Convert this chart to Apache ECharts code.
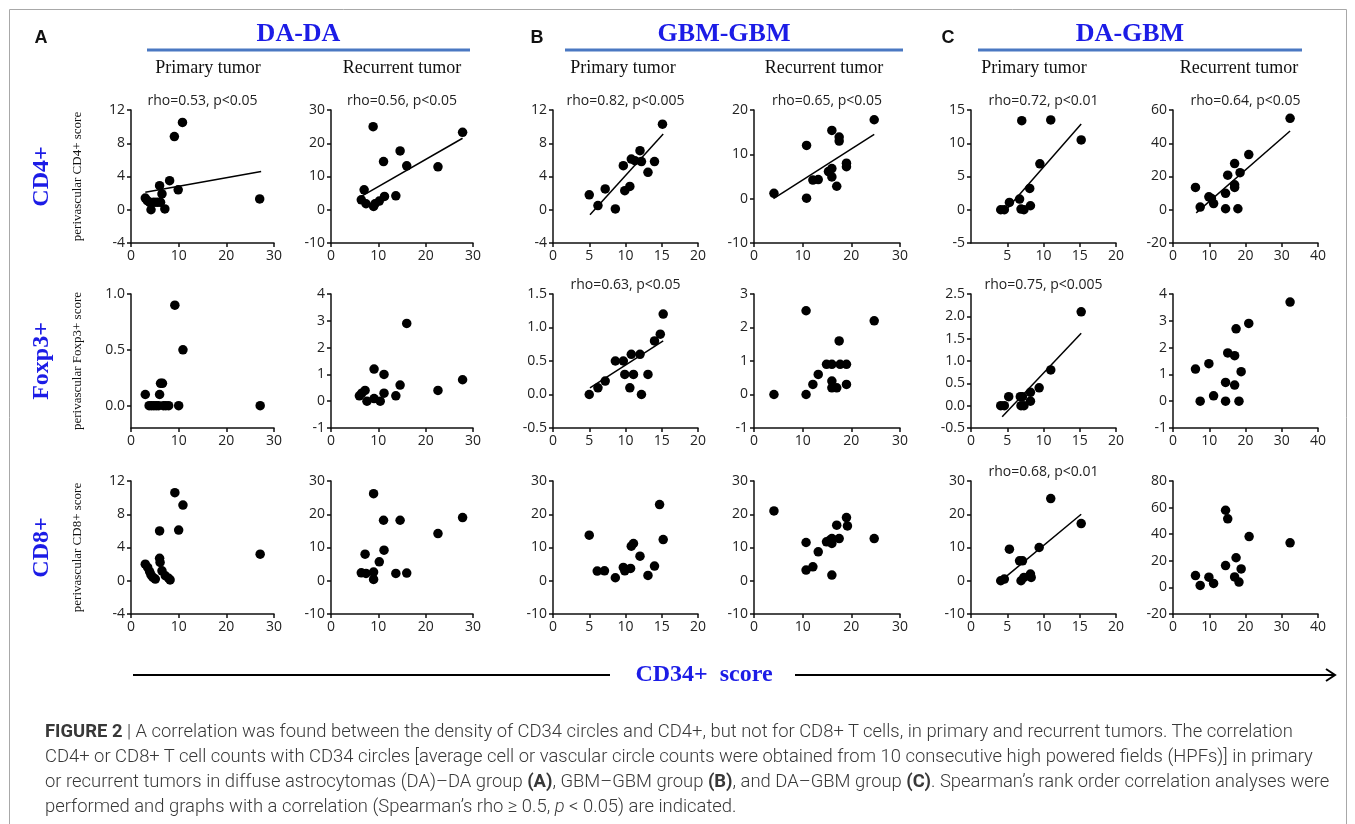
<!DOCTYPE html>
<html>
<head>
<meta charset="utf-8">
<script src="https://cdn.jsdelivr.net/npm/echarts@6/dist/echarts.min.js"></script>
<style>
body { margin: 0; background: #fff; }
#chart { position: absolute; left: 0; top: 0; width: 1355px; height: 824px; }
#caption { position: absolute; left: 45px; top: 719px; font-family: Roboto, 'Liberation Sans', sans-serif; font-weight: 300;
  font-size: 18.5px; line-height: 25px; color: #383838; white-space: nowrap; }
#caption div { transform-origin: 0 50%; width: max-content; }
#caption b { font-weight: 700; }
</style>
</head>
<body>
<div id="chart"></div>
<div id="caption">
<div id="cap1"><b>FIGURE 2</b> | A correlation was found between the density of CD34 circles and CD4+, but not for CD8+ T cells, in primary and recurrent tumors. The correlation</div>
<div>CD4+ or CD8+ T cell counts with CD34 circles [average cell or vascular circle counts were obtained from 10 consecutive high powered fields (HPFs)] in primary</div>
<div>or recurrent tumors in diffuse astrocytomas (DA)–DA group <b>(A)</b>, GBM–GBM group <b>(B)</b>, and DA–GBM group <b>(C)</b>. Spearman’s rank order correlation analyses were</div>
<div>performed and graphs with a correlation (Spearman’s rho ≥ 0.5, <i>p</i> &lt; 0.05) are indicated.</div>
</div>
<script>
// ---- data: [CD34 score, perivascular score] per patient ----
// DA-DA
const daPrimaryCD4 = [[3.0,1.4],[3.4,1.1],[3.9,0.9],[4.2,0.0],[4.8,0.9],[5.5,0.9],[6.0,2.9],[6.2,0.9],[6.5,1.9],[7.1,0.1],[8.1,3.5],[9.1,8.8],[9.9,2.4],[10.8,10.5],[27.0,1.3]]
const daRecurrentCD4 = [[6.4,3.0],[7.0,6.0],[7.4,1.8],[8.9,25.0],[9.0,1.0],[9.3,1.8],[10.2,2.6],[11.1,14.5],[11.3,4.0],[13.7,4.2],[14.6,17.7],[16.0,13.2],[22.6,12.9],[27.8,23.3]]
const daPrimaryFoxp3 = [[3.0,0.1],[3.8,0],[4.3,0],[4.8,0],[5.3,0],[5.8,0],[6.0,0.1],[6.2,0.2],[6.6,0.2],[6.8,0],[7.3,0],[7.9,0],[9.2,0.9],[10.0,0],[10.9,0.5],[27.1,0]]
const daRecurrentFoxp3 = [[6.0,0.2],[6.5,0.3],[7.2,0.4],[7.6,0.0],[9.1,1.2],[9.1,0.1],[10.4,0.0],[11.2,1.0],[11.2,0.3],[13.7,0.2],[14.6,0.6],[16.0,2.9],[22.6,0.4],[27.8,0.8]]
const daPrimaryCD8 = [[3.0,2.0],[3.5,1.6],[3.9,1.1],[4.2,0.7],[4.6,0.4],[5.1,0.2],[6.0,2.7],[6.1,2.2],[6.0,6.0],[6.5,1.2],[7.2,0.6],[7.9,0.3],[8.2,0.1],[9.2,10.6],[10.0,6.1],[10.9,9.1],[27.1,3.2]]
const daRecurrentCD8 = [[6.4,2.4],[7.2,8.0],[7.4,2.2],[9.0,26.2],[9.0,2.6],[9.0,0.4],[10.2,5.7],[11.1,18.2],[11.2,9.2],[13.7,2.2],[14.6,18.2],[16.0,2.3],[22.6,14.2],[27.8,19.0]]
// GBM-GBM
const gbmPrimaryCD4 = [[5.0,1.8],[6.2,0.5],[7.2,2.5],[8.6,0.1],[9.7,5.3],[9.9,2.3],[10.6,2.8],[10.8,6.1],[11.3,5.9],[12.0,7.1],[12.2,5.8],[13.1,4.5],[14.0,5.8],[15.1,10.3]]
const gbmRecurrentCD4 = [[4.1,1.2],[10.8,12.0],[10.8,0.1],[12.1,4.2],[13.2,4.3],[15.3,6.1],[16.0,15.4],[16.0,6.8],[16.0,4.9],[17.0,2.8],[17.5,13.9],[17.5,13.0],[19.0,8.0],[19.0,7.2],[24.7,17.8]]
const gbmPrimaryFoxp3 = [[5.0,0],[6.2,0.1],[7.2,0.2],[8.6,0.5],[9.7,0.5],[9.9,0.3],[10.6,0.1],[10.8,0.6],[11.1,0.3],[12.0,0.6],[12.2,0],[13.1,0.3],[14.0,0.8],[14.8,0.9],[15.2,1.2]]
const gbmRecurrentFoxp3 = [[4.1,0],[10.7,2.5],[10.7,0],[12.1,0.3],[13.2,0.6],[14.9,0.9],[16.0,0.9],[16.0,0.4],[16.0,0.2],[17.0,0.2],[17.5,1.6],[17.7,0.9],[19.0,0.9],[19.0,0.3],[24.7,2.2]]
const gbmPrimaryCD8 = [[5.0,13.7],[6.1,2.9],[7.1,3.0],[8.6,0.9],[9.7,4.0],[9.9,3.0],[10.7,3.7],[10.8,10.4],[11.1,11.2],[12.0,7.4],[13.1,1.6],[14.0,4.4],[14.7,22.9],[15.2,12.4]]
const gbmRecurrentCD8 = [[4.1,21.0],[10.7,11.5],[10.7,3.2],[12.1,4.2],[13.2,8.7],[14.9,11.7],[15.6,12.2],[16.0,12.7],[16.0,11.2],[16.0,1.7],[17.0,16.7],[17.5,12.7],[19.0,19.0],[19.2,16.5],[24.7,12.7]]
// DA-GBM
const dagbmPrimaryCD4 = [[4.1,0],[4.6,0],[5.3,1.1],[6.7,1.6],[7.0,13.4],[6.9,0.1],[7.3,0],[8.1,3.2],[8.2,0.6],[9.5,6.9],[11.0,13.5],[15.2,10.5]]
const dagbmRecurrentCD4 = [[6.2,13.4],[7.5,1.6],[9.9,7.8],[10.6,6.8],[11.2,3.7],[14.5,9.9],[14.5,0.6],[15.1,20.8],[17.0,27.8],[17.0,15.0],[17.0,13.4],[17.9,0.6],[18.5,22.3],[20.9,33.2],[32.3,55.0]]
const dagbmPrimaryFoxp3 = [[4.1,0],[4.6,0],[5.2,0.2],[6.8,0.2],[7.1,0.2],[6.9,0],[7.3,0],[8.2,0.3],[8.2,0.1],[9.4,0.4],[11.0,0.8],[15.2,2.1]]
const dagbmRecurrentFoxp3 = [[6.2,1.2],[7.5,0],[9.9,1.4],[11.2,0.2],[14.5,0.7],[14.5,0],[15.1,1.8],[17.0,1.7],[17.0,0.6],[17.4,2.7],[18.2,0],[18.8,1.1],[20.9,2.9],[32.3,3.7]]
const dagbmPrimaryCD8 = [[4.1,0],[4.6,0.5],[5.3,9.5],[6.7,6.0],[7.1,6.0],[6.9,0],[7.3,1.0],[8.2,2.0],[8.3,1.0],[9.4,10.0],[11.0,24.7],[15.2,17.2]]
const dagbmRecurrentCD8 = [[6.2,8.9],[7.5,1.5],[9.9,7.7],[11.2,3.0],[14.5,58],[14.5,16.4],[15.1,51.6],[17.4,22.3],[17.0,7.9],[18.2,4.0],[18.8,13.9],[21.0,38.2],[32.3,33.5]]

// regression lines (start / end of fitted line)
const fitLines = {
  0: [[3.0,2.1],[27.3,4.6]],
  1: [[6.4,4.0],[27.8,21.5]],
  2: [[5.1,-0.6],[15.2,9.1]],
  3: [[4.0,0.0],[24.7,14.5]],
  4: [[4.7,-0.2],[15.2,12.9]],
  5: [[6.4,-1.9],[32.3,47.4]],
  8: [[5.1,0.1],[15.2,0.8]],
  10: [[4.3,-0.25],[15.2,1.62]],
  16: [[4.7,1.0],[15.2,20.0]]
}
const rhoLabels = {
  0: 'rho=0.53, p<0.05', 1: 'rho=0.56, p<0.05', 2: 'rho=0.82, p<0.005', 3: 'rho=0.65, p<0.05',
  4: 'rho=0.72, p<0.01', 5: 'rho=0.64, p<0.05', 8: 'rho=0.63, p<0.05', 10: 'rho=0.75, p<0.005',
  16: 'rho=0.68, p<0.01'
}

// axis ranges [min, max, step]
const xRanges = [[0,30,10],[0,30,10],[0,20,5],[0,30,10],[0,20,5],[0,40,10]]
const yRanges = [
  [[-4,12,4],[-10,30,10],[-4,12,4],[-10,20,10],[-5,15,5],[-20,60,20]],
  [[-0.2,1.0,0.5],[-1,4,1],[-0.5,1.5,0.5],[-1,3,1],[-0.5,2.5,0.5],[-1,4,1]],
  [[-4,12,4],[-10,30,10],[-10,30,10],[-10,30,10],[-10,30,10],[-20,80,20]]
]
const groups = ['DA-DA', 'GBM-GBM', 'DA-GBM']
const groupLetters = ['A', 'B', 'C']
const tumorTypes = ['Primary tumor', 'Recurrent tumor']
const markers = ['CD4+', 'Foxp3+', 'CD8+']

const panels = [
  daPrimaryCD4, daRecurrentCD4, gbmPrimaryCD4, gbmRecurrentCD4, dagbmPrimaryCD4, dagbmRecurrentCD4,
  daPrimaryFoxp3, daRecurrentFoxp3, gbmPrimaryFoxp3, gbmRecurrentFoxp3, dagbmPrimaryFoxp3, dagbmRecurrentFoxp3,
  daPrimaryCD8, daRecurrentCD8, gbmPrimaryCD8, gbmRecurrentCD8, dagbmPrimaryCD8, dagbmRecurrentCD8
]

// ---- layout ----
const colLeft = [131, 331, 553, 754, 971, 1173]
const colWidth = [143, 142, 145, 146, 145, 145]
const rowTop = [110, 294, 481]
const rowHeight = [133, 134, 133]
const blue = '#1c1ce6'
const tickFont = 'Open Sans'

function tickValues (min, max, step) {
  const out = []
  for (let v = Math.ceil(min / step - 1e-9) * step; v <= max + 1e-9; v += step) out.push(+v.toFixed(3))
  return out
}

const chart = echarts.init(document.getElementById('chart'), null, { renderer: 'canvas' })
const grid = [], xAxis = [], yAxis = [], series = [], graphic = []

panels.forEach((data, i) => {
  const r = Math.floor(i / 6), c = i % 6
  grid.push({ left: colLeft[c], top: rowTop[r], width: colWidth[c], height: rowHeight[r], outerBoundsMode: 'none', containLabel: false })
  const xr = xRanges[c], yr = yRanges[r][c]
  let xt = tickValues(xr[0], xr[1], xr[2])
  if (i === 4) xt = xt.filter(v => v !== 0)
  const yt = tickValues(yr[0], yr[1], yr[2])
  const decimals = (r === 1 && c % 2 === 0) ? 1 : 0
  const axisCommon = {
    axisLine: { show: true, onZero: false, lineStyle: { color: '#111', width: 1.5 } },
    axisTick: { show: true, inside: false, length: 4, lineStyle: { color: '#111', width: 1.5 } },
    splitLine: { show: false }
  }
  xAxis.push(Object.assign({
    type: 'value', gridIndex: i, min: xr[0], max: xr[1],
    axisLabel: { customValues: xt, color: '#222', fontSize: 14, fontFamily: tickFont, margin: 6 }
  }, axisCommon, { axisTick: Object.assign({ customValues: xt }, axisCommon.axisTick) }))
  yAxis.push(Object.assign({
    type: 'value', gridIndex: i, min: yr[0], max: yr[1],
    axisLabel: { customValues: yt, color: '#222', fontSize: 14, fontFamily: tickFont, margin: 6,
      formatter: v => v.toFixed(decimals) }
  }, axisCommon, { axisTick: Object.assign({ customValues: yt }, axisCommon.axisTick) }))
  series.push({
    type: 'scatter', xAxisIndex: i, yAxisIndex: i, data: data,
    symbol: 'circle', symbolSize: 9.5, itemStyle: { color: '#000', opacity: 1 }, silent: true
  })
  if (fitLines[i]) {
    series.push({
      type: 'line', xAxisIndex: i, yAxisIndex: i, data: fitLines[i], showSymbol: false,
      lineStyle: { color: '#000', width: 1.5 }, silent: true
    })
  }
  if (rhoLabels[i]) {
    graphic.push({
      type: 'text', x: colLeft[c] + colWidth[c] / 2, y: rowTop[r] - 9,
      style: { text: rhoLabels[i], font: '14px "Open Sans"', fill: '#222', align: 'center', verticalAlign: 'middle' }
    })
  }
})

// frame
graphic.push({ type: 'rect', shape: { x: 9.5, y: 9.5, width: 1337, height: 840 }, style: { fill: null, stroke: '#a8a8a8', lineWidth: 1 } })

// group headers
const groupLineX = [[147, 470], [565, 903], [978, 1302]]
const letterX = [41, 537, 948]
groups.forEach((g, k) => {
  graphic.push({ type: 'text', x: letterX[k], y: 38,
    style: { text: groupLetters[k], font: 'bold 18px "Liberation Sans"', fill: '#111', align: 'center', verticalAlign: 'middle' } })
  graphic.push({ type: 'text', x: (groupLineX[k][0] + groupLineX[k][1]) / 2 - 10, y: 34,
    style: { text: g, font: 'bold 26px "Liberation Serif"', fill: blue, align: 'center', verticalAlign: 'middle' } })
  graphic.push({ type: 'line', shape: { x1: groupLineX[k][0], y1: 50, x2: groupLineX[k][1], y2: 50 },
    style: { stroke: '#4a78c2', lineWidth: 3 } })
})
const subCenterX = [208, 402, 623, 824, 1034, 1239]
subCenterX.forEach((x, c) => {
  graphic.push({ type: 'text', x: x, y: 68,
    style: { text: tumorTypes[c % 2], font: '18px "Liberation Serif"', fill: '#111', align: 'center', verticalAlign: 'middle' } })
})

// row labels and y-axis names
markers.forEach((m, r) => {
  const cy = rowTop[r] + rowHeight[r] / 2
  graphic.push({ type: 'text', x: 42, y: cy, rotation: Math.PI / 2,
    style: { text: m, font: 'bold 24px "Liberation Serif"', fill: blue, align: 'center', verticalAlign: 'middle' } })
  graphic.push({ type: 'text', x: 78, y: cy, rotation: Math.PI / 2,
    style: { text: 'perivascular ' + m + ' score', font: '13px "Liberation Serif"', fill: '#111', align: 'center', verticalAlign: 'middle' } })
})

// bottom axis title with arrow
graphic.push({ type: 'line', shape: { x1: 133, y1: 675, x2: 610, y2: 675 }, style: { stroke: '#000', lineWidth: 2 } })
graphic.push({ type: 'line', shape: { x1: 795, y1: 675, x2: 1334, y2: 675 }, style: { stroke: '#000', lineWidth: 2 } })
graphic.push({ type: 'polyline', shape: { points: [[1326, 669], [1335, 675], [1326, 681]] }, style: { stroke: '#000', lineWidth: 2, fill: null } })
graphic.push({ type: 'text', x: 704, y: 675,
  style: { text: 'CD34+  score', font: 'bold 24px "Liberation Serif"', fill: blue, align: 'center', verticalAlign: 'middle' } })

chart.setOption({ animation: false, grid, xAxis, yAxis, series, graphic })

// fit the caption width to the reference
const cap1 = document.getElementById('cap1')
const k = 1248 / cap1.getBoundingClientRect().width
document.querySelectorAll('#caption div').forEach(d => { d.style.transform = 'scaleX(' + k.toFixed(3) + ')' })
</script>
</body>
</html>
